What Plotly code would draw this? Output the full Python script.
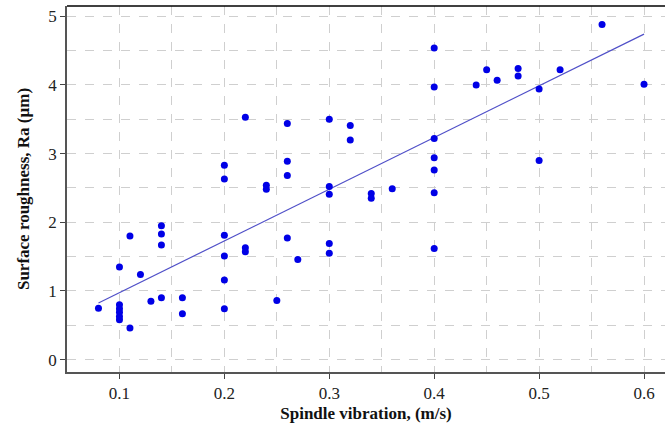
import numpy as np
import plotly.graph_objects as go

# Spindle vibration (m/s)
vibration = [0.08,
             0.10, 0.10, 0.10, 0.10, 0.10, 0.10,
             0.11, 0.11, 0.12, 0.13,
             0.14, 0.14, 0.14, 0.14,
             0.16, 0.16,
             0.20, 0.20, 0.20, 0.20, 0.20, 0.20,
             0.22, 0.22, 0.22,
             0.24, 0.24, 0.25,
             0.26, 0.26, 0.26, 0.26, 0.27,
             0.30, 0.30, 0.30, 0.30, 0.30,
             0.32, 0.32, 0.34, 0.34, 0.36,
             0.40, 0.40, 0.40, 0.40, 0.40, 0.40, 0.40,
             0.44, 0.45, 0.46, 0.48, 0.48,
             0.50, 0.50, 0.52, 0.56, 0.60]
# Surface roughness Ra (um)
roughness = [0.75,
             1.35, 0.80, 0.74, 0.69, 0.63, 0.58,
             1.80, 0.46, 1.24, 0.85,
             1.95, 1.83, 1.67, 0.90,
             0.90, 0.67,
             2.83, 2.63, 1.81, 1.51, 1.16, 0.74,
             3.53, 1.63, 1.57,
             2.54, 2.48, 0.86,
             3.44, 2.89, 2.68, 1.77, 1.46,
             3.50, 2.52, 2.41, 1.69, 1.55,
             3.41, 3.20, 2.42, 2.35, 2.49,
             4.54, 3.97, 3.22, 2.94, 2.76, 2.43, 1.62,
             4.00, 4.22, 4.07, 4.24, 4.13,
             3.94, 2.90, 4.22, 4.88, 4.01]

# Linear fit shown in the reference
fit_slope = 7.53
fit_intercept = 0.223

x_ticks = [0.1, 0.2, 0.3, 0.4, 0.5, 0.6]
y_ticks = [0, 1, 2, 3, 4, 5]

fx = np.array([min(vibration), max(vibration)])
fy = fit_intercept + fit_slope * fx

FONT = "Liberation Serif"
GRID = "#cfcfcf"

fig = go.Figure()
fig.add_trace(go.Scatter(x=fx, y=fy, mode="lines",
                         line=dict(color="#5050c8", width=1.2),
                         showlegend=False, hoverinfo="skip"))
fig.add_trace(go.Scatter(x=vibration, y=roughness, mode="markers",
                         marker=dict(color="#0000e6", size=7, line=dict(width=0)),
                         showlegend=False))

fig.update_layout(
    width=665, height=427,
    margin=dict(l=67, r=0, t=6, b=55),
    paper_bgcolor="white", plot_bgcolor="white",
    font=dict(family=FONT, size=17, color="#222"),
    xaxis=dict(
        range=[0.05, 0.62], tickvals=x_ticks, ticktext=[str(v) for v in x_ticks],
        ticks="outside", ticklen=5, tickcolor="#444", tickwidth=1,
        showline=True, linecolor="#555", linewidth=1.5,
        showgrid=True, gridcolor=GRID, griddash="dash", gridwidth=1,
        minor=dict(dtick=0.05, tick0=0.05, showgrid=True, gridcolor=GRID, griddash="dash", ticks=""),
        zeroline=False,
        title=dict(text="<b>Spindle vibration, (m/s)</b>", standoff=5,
                   font=dict(family=FONT, size=17, color="#111")),
    ),
    yaxis=dict(
        range=[-0.18, 5.15], tickvals=y_ticks,
        ticks="outside", ticklen=5, tickcolor="#444", tickwidth=1,
        showline=True, linecolor="#555", linewidth=1.5,
        showgrid=True, gridcolor=GRID, griddash="dash", gridwidth=1,
        minor=dict(dtick=0.5, tick0=0, showgrid=True, gridcolor=GRID, griddash="dash", ticks=""),
        zeroline=False,
        title=dict(text="<b>Surface roughness, Ra (µm)</b>", standoff=14,
                   font=dict(family=FONT, size=17, color="#111")),
    ),
    shapes=[dict(type="line", xref="paper", yref="paper", x0=0, x1=1, y0=1, y1=1,
                 line=dict(color="black", width=1.5))],
)

fig.write_html("out.html",
               config={"displayModeBar": False},
               post_script="document.body.style.margin='0';document.body.style.overflow='hidden';")
